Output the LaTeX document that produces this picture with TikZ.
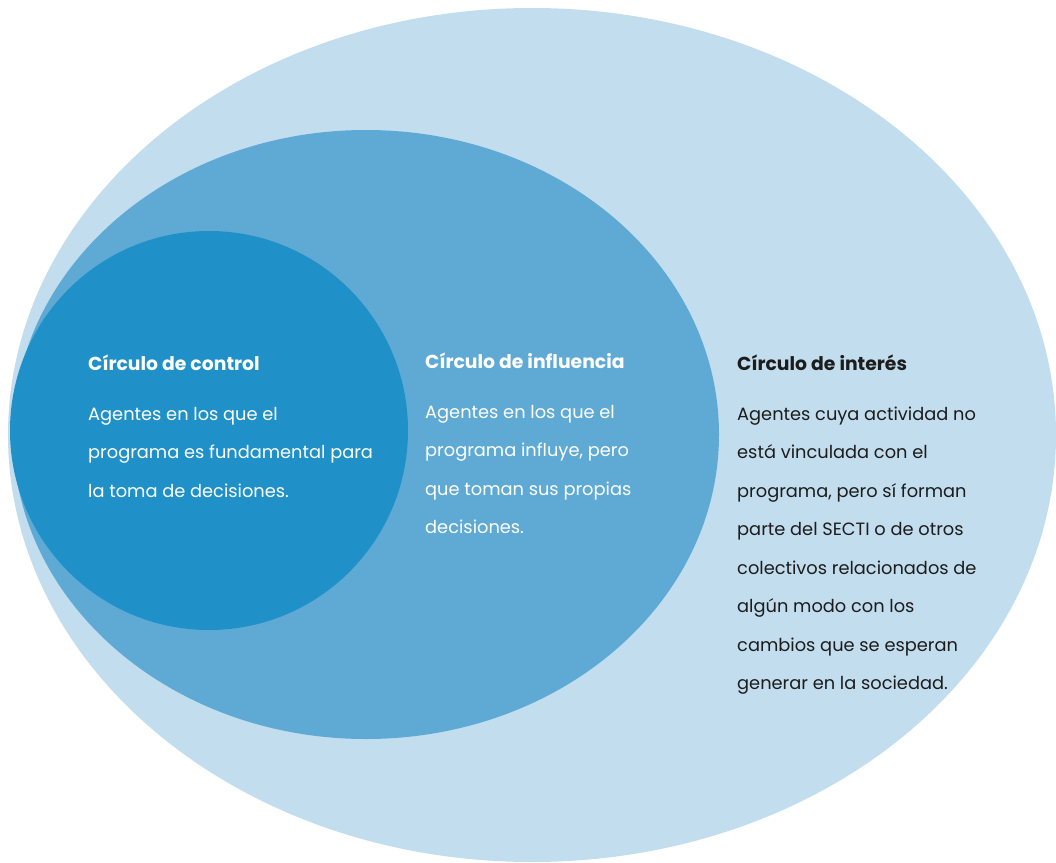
\documentclass[tikz,border=0pt]{standalone}
\usepackage{fontspec}
\setmainfont{Poppins}
\definecolor{outerc}{HTML}{C2DDED}
\definecolor{midc}{HTML}{5FAAD5}
\definecolor{innerc}{HTML}{1F91C8}
\definecolor{darktext}{HTML}{1C1C1C}
\newcommand{\blocktitle}[1]{{\fontsize{18.8}{38.5}\selectfont\bfseries #1}}
\begin{document}
\begin{tikzpicture}[x=1pt,y=-1pt,
  blocktext/.style={anchor=base west,align=left,inner sep=0pt,font=\fontsize{17.8}{38.5}\selectfont},
  whitetext/.style={blocktext,text=white},
  darkblock/.style={blocktext,text=darktext}]
\useasboundingbox (0,0) rectangle (1056,862);
\clip (0,0) rectangle (1056,862);
\fill[outerc] (532,435) ellipse [x radius=524, y radius=427];
\fill[midc] (366,434.5) ellipse [x radius=353, y radius=304.5];
\fill[innerc] (209,430.5) ellipse [x radius=199, y radius=199.5];
\node[whitetext] (control) at (88,497) {\blocktitle{Círculo de control}\\[11.5pt]
Agentes en los que el\\
programa es fundamental para\\
la toma de decisiones.};
\node[whitetext] (influencia) at (425,533.5) {\blocktitle{Círculo de influencia}\\[11.5pt]
Agentes en los que el\\
programa influye, pero\\
que toman sus propias\\
decisiones.};
\node[darkblock] (interes) at (737,689.5) {\blocktitle{Círculo de interés}\\[11.5pt]
Agentes cuya actividad no\\
está vinculada con el\\
programa, pero sí forman\\
parte del SECTI o de otros\\
colectivos relacionados de\\
algún modo con los\\
cambios que se esperan\\
generar en la sociedad.};
\end{tikzpicture}
\end{document}
